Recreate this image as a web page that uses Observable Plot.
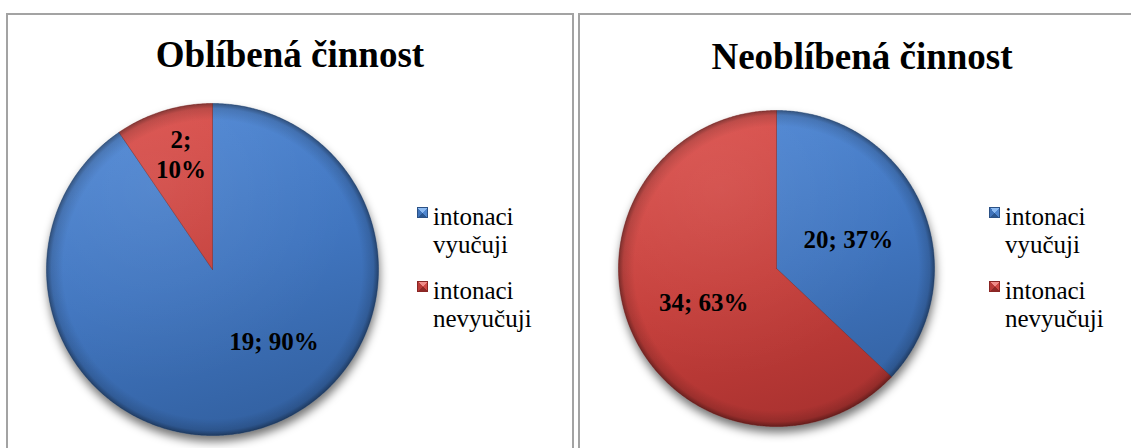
<!DOCTYPE html>
<html>
<head>
<meta charset="utf-8">
<script src="https://cdn.jsdelivr.net/npm/d3@7"></script>
<script src="https://cdn.jsdelivr.net/npm/@observablehq/plot@0.6"></script>
<style>
  html, body { margin: 0; padding: 0; background: #fff; }
  body { position: relative; width: 1131px; height: 448px; overflow: hidden; font-family: "Liberation Serif", "Times New Roman", "DejaVu Serif", serif; }
  .panel { position: absolute; box-sizing: border-box; border: 2px solid #a3a3a3; background: #fff; }
  .title { position: absolute; text-align: center; font-family: "Liberation Serif", "Times New Roman", serif; font-weight: bold; font-size: 37px; line-height: 37px; color: #000; white-space: nowrap; }
  .legend-text { position: absolute; font-family: "Liberation Serif", "Times New Roman", "DejaVu Serif", serif; font-weight: 400; font-size: 25px; line-height: 28px; color: #000; width: 125px; }
  .legend-sq { position: absolute; width: 11px; height: 11px; box-sizing: border-box; }
  .chart { position: absolute; }
</style>
</head>
<body>
<script>
// ---------------- data ----------------
const categories = ["intonaci vyučuji", "intonaci nevyučuji"];
const chartTitles = ["Oblíbená činnost", "Neoblíbená činnost"];
const favouriteCounts = [19, 2];     // Oblíbená činnost
const unfavouriteCounts = [20, 34];  // Neoblíbená činnost

// ---------------- styles / layout ----------------
const sliceStops = [
  ["#4f87d4", "#4075bf", "#3260a0"],  // blue
  ["#da504c", "#c63f3b", "#a8312f"]   // red
];
const sliceEdge = ["#2b5185", "#8a2624"];
const squareBg = [
  "conic-gradient(from -45deg, #8dbbf2 0 90deg, #4f86cf 90deg 180deg, #2a5690 180deg 270deg, #3f73ba 270deg 360deg)",
  "conic-gradient(from -45deg, #f08c88 0 90deg, #cf4844 90deg 180deg, #8e2826 180deg 270deg, #b83a37 270deg 360deg)"
];
const panels = [
  { left: 6, width: 568, cx: 212, cy: 269, r: 166, titleTop: 36, sqX: 417, txtX: 433,
    labelAt: [[0.37, -0.43], [-0.19, 0.70]], labelWrap: [false, true] },
  { left: 578, width: 568, cx: 776, cy: 268, r: 158, titleTop: 38, sqX: 989, txtX: 1005,
    labelAt: [[0.455, 0.19], [-0.46, -0.21]], labelWrap: [false, false] }
];
const legendTops = [203, 277];
const panelTop = 13;

function pieSlices(counts) {
  const arcs = d3.pie().sort(null).value(d => d)(counts);
  return arcs.map((a, k) => {
    const n = Math.max(4, Math.ceil((a.endAngle - a.startAngle) / (Math.PI / 360)));
    const pts = [{ x: 0, y: 0, k }];
    for (let j = 0; j <= n; j++) {
      const t = a.startAngle + (a.endAngle - a.startAngle) * j / n;
      pts.push({ x: Math.sin(t), y: Math.cos(t), k });
    }
    pts.push({ x: 0, y: 0, k });
    return pts;
  });
}

function drawChart(idx, counts) {
  const p = panels[idx];
  const id = "pie" + idx;
  const panel = document.createElement("div");
  panel.className = "panel";
  Object.assign(panel.style, { left: p.left + "px", top: panelTop + "px", width: p.width + "px", height: "480px" });
  document.body.appendChild(panel);

  const svgLeft = p.left + 2, svgTop = panelTop + 2;
  const svgW = Math.min(p.width - 4, 1131 - svgLeft), svgH = 448 - svgTop;
  const slices = pieSlices(counts);
  const flat = slices.flat();
  const total = d3.sum(counts);
  const labels = counts.map((v, k) => ({
    x: p.labelAt[k][0], y: p.labelAt[k][1],
    text: `${v};${p.labelWrap[k] ? "\n" : " "}${Math.round(v / total * 100)}%`
  }));

  const svg = Plot.plot({
    width: svgW, height: svgH,
    style: { background: "transparent", overflow: "visible" },
    x: { domain: [-1, 1], range: [p.cx - p.r - svgLeft, p.cx + p.r - svgLeft], axis: null },
    y: { domain: [-1, 1], range: [p.cy + p.r - svgTop, p.cy - p.r - svgTop], axis: null },
    marks: [
      Plot.line(flat, { x: "x", y: "y", z: "k", fill: "#000", fillOpacity: 0.55, stroke: "none", dy: 6, dx: 1 }),
      ...slices.map((s, k) => Plot.line(s, { x: "x", y: "y", fill: sliceStops[k][1], stroke: sliceEdge[k], strokeWidth: 0.9, strokeOpacity: 0.55 })),
      Plot.line(flat, { x: "x", y: "y", z: "k", fill: "#000", fillOpacity: 0, stroke: "none" }),
      Plot.line(flat, { x: "x", y: "y", z: "k", fill: "#fff", fillOpacity: 0, stroke: "none" }),
      Plot.text(labels, { x: "x", y: "y", text: "text", fontFamily: "Liberation Serif", fontSize: 25, fontWeight: "bold", fill: "#000", textAnchor: "middle", lineAnchor: "middle", lineHeight: 1.2 })
    ]
  });
  svg.classList.add("chart");
  svg.style.left = svgLeft + "px";
  svg.style.top = svgTop + "px";
  svg.style.maxWidth = "none";

  const sx = svg.scale("x"), sy = svg.scale("y");
  const cx = sx.apply(0), cy = sy.apply(0), r = sx.apply(1) - cx;
  const defs = d3.select(svg).insert("defs", ":first-child");
  sliceStops.forEach((stops, k) => {
    const g = defs.append("linearGradient").attr("id", `${id}-g${k}`).attr("gradientUnits", "userSpaceOnUse")
      .attr("x1", cx - r * 0.3).attr("y1", cy - r).attr("x2", cx + r * 0.3).attr("y2", cy + r);
    g.append("stop").attr("offset", 0).attr("stop-color", stops[0]);
    g.append("stop").attr("offset", 0.5).attr("stop-color", stops[1]);
    g.append("stop").attr("offset", 1).attr("stop-color", stops[2]);
  });
  const rim = defs.append("radialGradient").attr("id", `${id}-rim`).attr("gradientUnits", "userSpaceOnUse")
    .attr("cx", cx).attr("cy", cy).attr("r", r);
  rim.append("stop").attr("offset", 0).attr("stop-color", "#000").attr("stop-opacity", 0);
  rim.append("stop").attr("offset", 0.9).attr("stop-color", "#000").attr("stop-opacity", 0);
  rim.append("stop").attr("offset", 0.97).attr("stop-color", "#000").attr("stop-opacity", 0.14);
  rim.append("stop").attr("offset", 1).attr("stop-color", "#000").attr("stop-opacity", 0.4);
  const sheen = defs.append("radialGradient").attr("id", `${id}-sheen`).attr("gradientUnits", "userSpaceOnUse")
    .attr("cx", cx - r * 0.35).attr("cy", cy - r * 0.5).attr("r", r * 1.2);
  sheen.append("stop").attr("offset", 0).attr("stop-color", "#fff").attr("stop-opacity", 0.07);
  sheen.append("stop").attr("offset", 1).attr("stop-color", "#fff").attr("stop-opacity", 0);
  const filt = defs.append("filter").attr("id", `${id}-blur`).attr("x", "-20%").attr("y", "-20%").attr("width", "140%").attr("height", "140%");
  filt.append("feGaussianBlur").attr("stdDeviation", 5);

  // line groups in mark order: shadow, slice0, slice1, rim, sheen
  const groups = svg.querySelectorAll('g[aria-label="line"]');
  const setAttr = (g, name, value) => {
    if (!g) return;
    g.setAttribute(name, value);
    g.querySelectorAll("path").forEach(pth => { if (pth.hasAttribute(name)) pth.setAttribute(name, value); });
  };
  setAttr(groups[0], "filter", `url(#${id}-blur)`);
  slices.forEach((s, k) => setAttr(groups[1 + k], "fill", `url(#${id}-g${k})`));
  setAttr(groups[1 + slices.length], "fill", `url(#${id}-rim)`);
  setAttr(groups[1 + slices.length], "fill-opacity", 1);
  setAttr(groups[2 + slices.length], "fill", `url(#${id}-sheen)`);
  setAttr(groups[2 + slices.length], "fill-opacity", 1);
  document.body.appendChild(svg);

  const t = document.createElement("div");
  t.className = "title";
  t.textContent = chartTitles[idx];
  Object.assign(t.style, { left: p.left + "px", width: p.width + "px", top: p.titleTop + "px" });
  document.body.appendChild(t);

  categories.forEach((c, k) => {
    const sq = document.createElement("div");
    sq.className = "legend-sq";
    Object.assign(sq.style, { left: p.sqX + "px", top: (legendTops[k] + 4) + "px", background: squareBg[k], border: "0.5px solid " + sliceEdge[k] });
    document.body.appendChild(sq);
    const tx = document.createElement("div");
    tx.className = "legend-text";
    tx.textContent = c;
    Object.assign(tx.style, { left: p.txtX + "px", top: legendTops[k] + "px" });
    document.body.appendChild(tx);
  });
}

drawChart(0, favouriteCounts);
drawChart(1, unfavouriteCounts);
</script>
</body>
</html>
